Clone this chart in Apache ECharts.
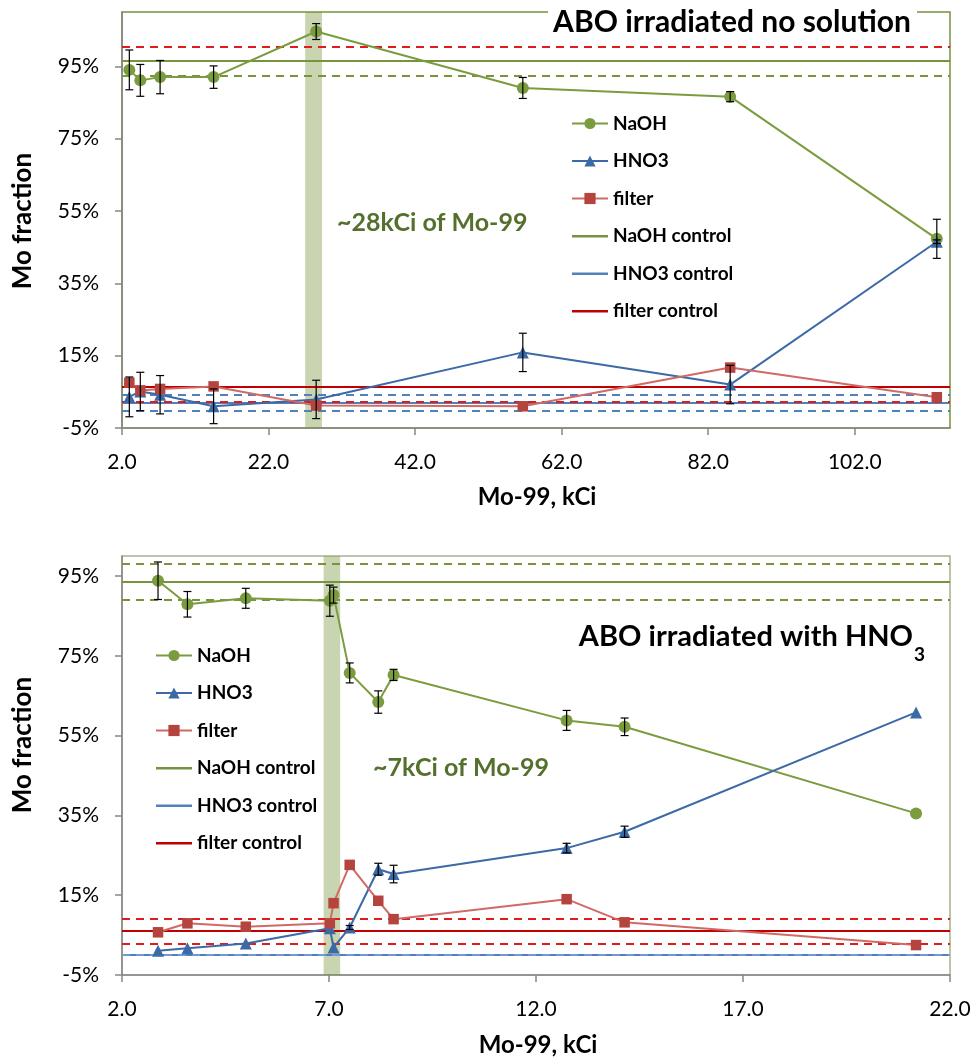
<!DOCTYPE html>
<html><head><meta charset="utf-8">
<script src="https://cdn.jsdelivr.net/npm/echarts@6/dist/echarts.min.js"></script>
<style>html,body{margin:0;padding:0;background:#fff}#c{width:977px;height:1059px}</style>
</head><body><div id="c"></div>
<script>
// ---------- top chart: ABO irradiated no solution ----------
const topX       = [3.0, 4.5, 7.2, 14.5, 28.5, 56.7, 85.0, 113.2];
const topNaOH    = [94.0, 91.1, 92.0, 92.0, 104.6, 89.0, 86.6, 47.3];
const topNaOHErr = [5.5, 4.4, 4.6, 3.1, 2.2, 2.9, 1.4, 5.4];
const topHNO3    = [3.6, 5.1, 4.2, 1.0, 2.9, 15.9, 7.0, 46.5];
const topHNO3Err = [5.5, 5.3, 5.3, 4.8, 5.3, 5.3, 5.3, 0.5];
const topFilter  = [7.5, 5.4, 5.8, 6.5, 1.2, 1.0, 11.7, 3.5];
const topCtrlNaOH = 96.4, topCtrlHNO3 = 2.05, topCtrlFilter = 6.4;
const topLimNaOH = [92.4];
const topLimHNO3 = [4.2, -0.1];
const topLimFilter = [100.4, 2.2];
const topBand = [27.0, 29.3];
const topXTicks = [2, 22, 42, 62, 82, 102];
const topYTicks = [-5, 15, 35, 55, 75, 95];

// ---------- bottom chart: ABO irradiated with HNO3 ----------
const botX       = [2.87, 3.58, 4.99, 7.02, 7.11, 7.50, 8.19, 8.56, 12.74, 14.14, 21.18];
const botNaOH    = [93.8, 87.9, 89.4, 88.8, 90.2, 70.7, 63.4, 70.2, 58.8, 57.2, 35.5];
const botNaOHErr = [4.7, 3.2, 2.5, 3.9, 2.0, 2.5, 2.8, 1.4, 2.5, 2.2, 0];
const botHNO3    = [1.1, 1.7, 2.9, 6.7, 1.9, 6.9, 21.5, 20.3, 26.8, 30.9, 60.8];
const botHNO3Err = [0, 0, 0, 0, 0, 0.5, 1.5, 2.2, 1.2, 1.4, 0];
const botFilter  = [5.7, 7.95, 7.1, 7.95, 13.0, 22.6, 13.6, 9.0, 14.0, 8.2, 2.5];
const botCtrlNaOH = 93.5, botCtrlHNO3 = 0.0, botCtrlFilter = 6.0;
const botLimNaOH = [98.0, 89.0];
const botLimHNO3 = [0.0];
const botLimFilter = [9.2, 2.8];
const botBand = [6.87, 7.27];
const botXTicks = [2, 7, 12, 17, 22];
const botYTicks = [-5, 15, 35, 55, 75, 95];

const names = ['NaOH', 'HNO3', 'filter', 'NaOH control', 'HNO3 control', 'filter control'];

const F = 'Lato, "Open Sans", sans-serif';
const C = {
  naoh: '#7a9c3e', hno3: '#3c6aa6', filterLine: '#cf6a66', filterMark: '#b5443f',
  naohCtrl: '#77933c', hno3Ctrl: '#4f81bd', hno3Dash: '#6f9bd3', filterCtrl: '#c00000', redDash: '#e01b1b'
};
const LINE_ICON = 'path://M0,0 M36,14 M0,6 L36,6 L36,8.4 L0,8.4 Z';

function zip(xs, ys) { return xs.map((x, i) => [x, ys[i]]); }
function zip3(xs, ys, es) { return xs.map((x, i) => [x, ys[i], es[i]]); }

function dataSeries(g, x, naoh, hno3, filt) {
  return [
    { name: 'NaOH', type: 'line', xAxisIndex: g, yAxisIndex: g, data: zip(x, naoh), symbol: 'circle', symbolSize: 12,
      itemStyle: { color: C.naoh }, lineStyle: { color: C.naoh, width: 2 }, z: 4 },
    { name: 'HNO3', type: 'line', xAxisIndex: g, yAxisIndex: g, data: zip(x, hno3), symbol: 'triangle', symbolSize: 12,
      itemStyle: { color: C.hno3 }, lineStyle: { color: C.hno3, width: 2 }, z: 4 },
    { name: 'filter', type: 'line', xAxisIndex: g, yAxisIndex: g, data: zip(x, filt), symbol: 'rect', symbolSize: 10.5,
      itemStyle: { color: C.filterMark }, lineStyle: { color: C.filterLine, width: 2 }, z: 4 }
  ];
}

function ctrlSeries(g, name, color, mean, lims, limColors) {
  const d = [{ yAxis: mean, lineStyle: { type: 'solid', color: color, width: 2 } }];
  lims.forEach((v, i) => d.push({ yAxis: v, lineStyle: { type: [8, 6], color: limColors[i], width: 2.2 } }));
  return { name: name, type: 'line', xAxisIndex: g, yAxisIndex: g, data: [], symbol: 'none',
    itemStyle: { color: color }, lineStyle: { color: color, width: 2 }, z: 2,
    markLine: { silent: true, symbol: 'none', label: { show: false }, data: d, z: 2 } };
}

function errSeries(g, x, y, e) {
  return { type: 'custom', xAxisIndex: g, yAxisIndex: g, data: zip3(x, y, e), z: 5, silent: true,
    renderItem: function (params, api) {
      const xv = api.value(0), yv = api.value(1), ev = api.value(2);
      if (!ev) return null;
      const p1 = api.coord([xv, yv + ev]), p2 = api.coord([xv, yv - ev]);
      const st = { stroke: '#000', lineWidth: 1.2 };
      return { type: 'group', children: [
        { type: 'line', shape: { x1: p1[0], y1: p1[1], x2: p2[0], y2: p2[1] }, style: st },
        { type: 'line', shape: { x1: p1[0] - 4, y1: p1[1], x2: p1[0] + 4, y2: p1[1] }, style: st },
        { type: 'line', shape: { x1: p2[0] - 4, y1: p2[1], x2: p2[0] + 4, y2: p2[1] }, style: st }
      ] };
    } };
}

function bandSeries(g, band) {
  return { type: 'line', xAxisIndex: g, yAxisIndex: g, data: [], z: 6, silent: true,
    markArea: { silent: true, itemStyle: { color: 'rgba(119,147,60,0.4)' }, data: [[{ xAxis: band[0] }, { xAxis: band[1] }]] } };
}

function xAxisCfg(g, min, max, ticks) {
  return { gridIndex: g, type: 'value', min: min, max: max,
    axisLine: { onZero: false, lineStyle: { color: '#868686', width: 1.5 } },
    axisTick: { customValues: ticks, length: 7, lineStyle: { color: '#868686', width: 1.5 } },
    axisLabel: { customValues: ticks, formatter: v => v.toFixed(1), margin: 24, fontSize: 21, color: '#000', fontFamily: F },
    splitLine: { show: false } };
}
function yAxisCfg(g, min, max, ticks) {
  return { gridIndex: g, type: 'value', min: min, max: max,
    axisLine: { onZero: false, lineStyle: { color: '#868686', width: 1.5 } },
    axisTick: { customValues: ticks, length: 7, lineStyle: { color: '#868686', width: 1.5 } },
    axisLabel: { customValues: ticks, formatter: v => v + '%', margin: 23, fontSize: 21, color: '#000', fontFamily: F },
    splitLine: { show: false } };
}

function legendCfg(left, top) {
  return { left: left, top: top, padding: 0, orient: 'vertical', itemWidth: 36, itemHeight: 14, itemGap: 18.5, selectedMode: false,
    data: names.map((n, i) => i < 3 ? { name: n } : { name: n, icon: LINE_ICON }),
    textStyle: { fontSize: 19, fontWeight: 700, color: '#000', fontFamily: F } };
}

const option = {
  animation: false,
  backgroundColor: '#fff',
  grid: [
    { left: 122, top: 12, width: 828, height: 416, show: true, borderColor: '#77933c', borderWidth: 1.5 },
    { left: 122, top: 556, width: 828, height: 419, show: true, borderColor: '#a6b38f', borderWidth: 1.5 }
  ],
  xAxis: [xAxisCfg(0, 2, 115, topXTicks), xAxisCfg(1, 2, 22, botXTicks)],
  yAxis: [yAxisCfg(0, -5, 110, topYTicks), yAxisCfg(1, -5, 100, botYTicks)],
  legend: [legendCfg(571, 114), legendCfg(155, 646)],
  series: [].concat(
    [ctrlSeries(0, 'NaOH control', C.naohCtrl, topCtrlNaOH, topLimNaOH, [C.naohCtrl]),
     ctrlSeries(0, 'HNO3 control', C.hno3Ctrl, topCtrlHNO3, topLimHNO3, [C.hno3Ctrl, C.hno3Ctrl]),
     ctrlSeries(0, 'filter control', C.filterCtrl, topCtrlFilter, topLimFilter, [C.redDash, C.redDash])],
    dataSeries(0, topX, topNaOH, topHNO3, topFilter),
    [errSeries(0, topX, topNaOH, topNaOHErr), errSeries(0, topX, topHNO3, topHNO3Err), bandSeries(0, topBand)],
    [ctrlSeries(1, 'NaOH control', C.naohCtrl, botCtrlNaOH, botLimNaOH, [C.naohCtrl, C.naohCtrl]),
     ctrlSeries(1, 'HNO3 control', C.hno3Ctrl, botCtrlHNO3, botLimHNO3, [C.hno3Dash]),
     ctrlSeries(1, 'filter control', C.filterCtrl, botCtrlFilter, botLimFilter, [C.redDash, C.redDash])],
    dataSeries(1, botX, botNaOH, botHNO3, botFilter),
    [errSeries(1, botX, botNaOH, botNaOHErr), errSeries(1, botX, botHNO3, botHNO3Err), bandSeries(1, botBand)]
  ),
  graphic: [
    { type: 'rect', left: 548, top: 0, shape: { width: 369, height: 34 }, style: { fill: '#fff' }, z: 50 },
    { type: 'text', x: 732, y: 22, z: 51, style: { text: 'ABO irradiated no solution', fill: '#000', font: 'bold 30px ' + F, textAlign: 'center', textVerticalAlign: 'middle' } },
    { type: 'text', x: 913, y: 637, z: 51, style: { text: 'ABO irradiated with HNO', fill: '#000', font: 'bold 29px ' + F, textAlign: 'right', textVerticalAlign: 'middle' } },
    { type: 'text', x: 914, y: 655, z: 51, style: { text: '3', fill: '#000', font: 'bold 19px ' + F, textAlign: 'left', textVerticalAlign: 'middle' } },
    { type: 'text', x: 337, y: 223, z: 51, style: { text: '~28kCi of Mo-99', fill: '#55702c', font: 'bold 25px ' + F, textAlign: 'left', textVerticalAlign: 'middle' } },
    { type: 'text', x: 373, y: 768, z: 51, style: { text: '~7kCi of Mo-99', fill: '#55702c', font: 'bold 25px ' + F, textAlign: 'left', textVerticalAlign: 'middle' } },
    { type: 'text', x: 23, y: 221, rotation: Math.PI / 2, z: 51, style: { text: 'Mo fraction', fill: '#000', font: 'bold 26px ' + F, textAlign: 'center', textVerticalAlign: 'middle' } },
    { type: 'text', x: 23, y: 745, rotation: Math.PI / 2, z: 51, style: { text: 'Mo fraction', fill: '#000', font: 'bold 26px ' + F, textAlign: 'center', textVerticalAlign: 'middle' } },
    { type: 'text', x: 537, y: 497, z: 51, style: { text: 'Mo-99, kCi', fill: '#000', font: 'bold 24px ' + F, textAlign: 'center', textVerticalAlign: 'middle' } },
    { type: 'text', x: 538, y: 1045, z: 51, style: { text: 'Mo-99, kCi', fill: '#000', font: 'bold 24px ' + F, textAlign: 'center', textVerticalAlign: 'middle' } }
  ]
};

const chart = echarts.init(document.getElementById('c'), null, { renderer: 'canvas' });
chart.setOption(option);
</script>
</body></html>
